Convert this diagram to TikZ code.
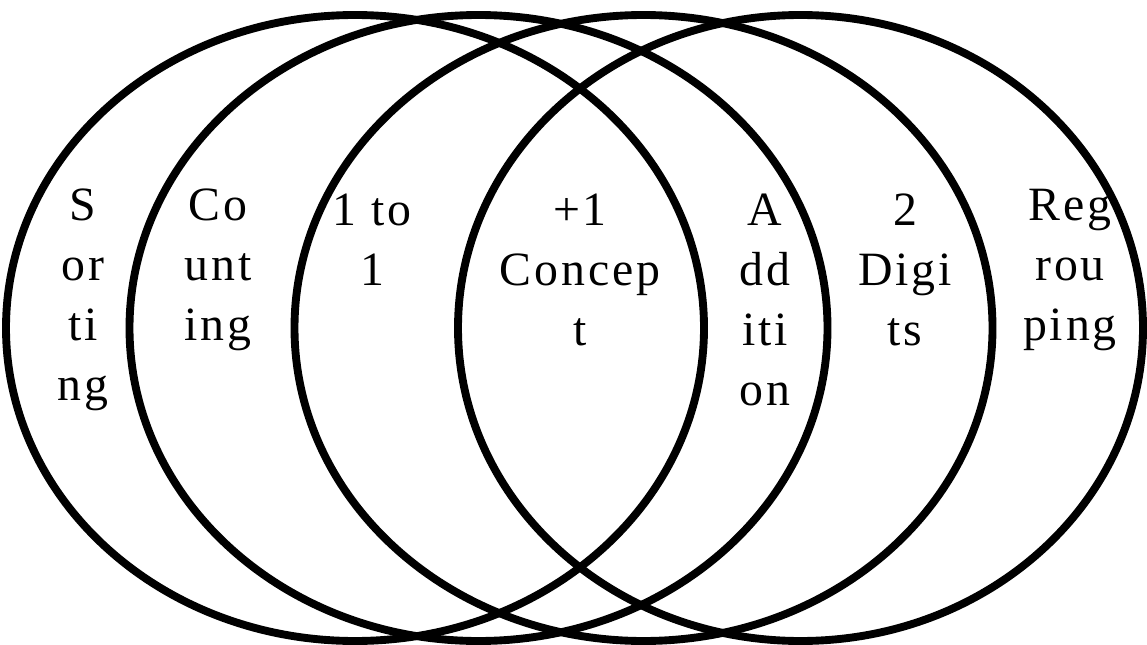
\documentclass[tikz,border=0pt]{standalone}
\usepackage{fontspec}
\setmainfont{Liberation Serif}[LetterSpace=6]
\usepackage{tikz}

\begin{document}
\begin{tikzpicture}[ring/.style={line width=5.6pt}, lbl/.style={shape=rectangle, inner sep=0pt, align=center, font=\fontsize{34}{42.7}\selectfont}]
			\useasboundingbox (0, 0) rectangle (28.675, 16.1);
			\draw[ring] (8.875, 7.9) ellipse (8.725 and 7.825);
			\draw[ring] (11.9625, 7.9) ellipse (8.725 and 7.825);
			\draw[ring] (16.0875, 7.9) ellipse (8.725 and 7.825);
			\draw[ring] (20.0125, 7.9) ellipse (8.5625 and 7.825);
			\node[lbl](N1) at (2.075, 8.6){S\\or\\ti\\ng};
			\node[lbl](N2) at (5.45, 9.35){Co\\unt\\ing};
			\node[lbl](N3) at (9.3, 10.1){1 to\\1};
			\node[lbl](N4) at (14.5, 9.35){+1\\Concep\\t};
			\node[lbl](N5) at (19.125, 8.6){A\\dd\\iti\\on};
			\node[lbl](N6) at (22.625, 9.35){2\\Digi\\ts};
			\node[lbl](N7) at (26.75, 9.35){Reg\\rou\\ping};
		\end{tikzpicture}
\end{document}
